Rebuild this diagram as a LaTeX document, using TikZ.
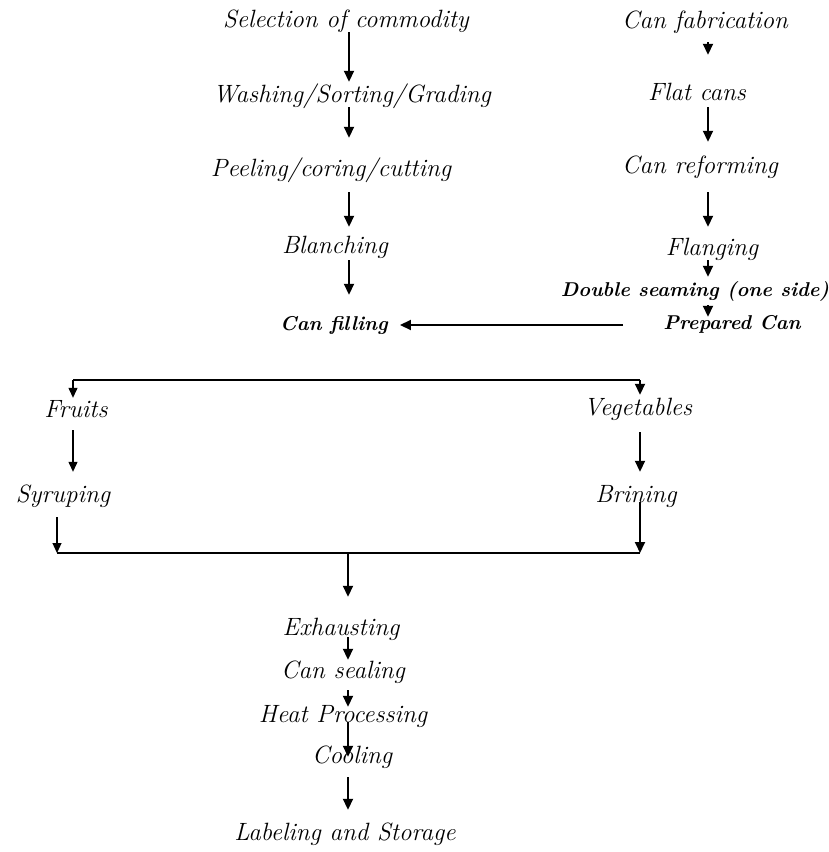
\documentclass[tikz,border=0pt]{standalone}
\usetikzlibrary{arrows.meta}
\begin{document}
\begin{tikzpicture}[x=1pt,y=-1pt,
 lbl/.style={font=\fontsize{25}{27}\selectfont\itshape, inner sep=0pt, text height=15pt, text depth=5pt},
 blbl/.style={font=\fontsize{20}{22}\selectfont\bfseries\itshape, inner sep=0pt, text height=12pt, text depth=4pt},
 arr/.style={line width=1.8pt, -{Triangle[width=10pt,length=11pt]}},
 tarr/.style={line width=1.2pt, -{Triangle[width=9pt,length=10pt]}},
 ln/.style={line width=1.2pt}]
\useasboundingbox (0,0) rectangle (828,852);
% columns
\coordinate (cL) at (349,0);
\coordinate (cR) at (708,0);
\coordinate (cM) at (348,0);
% left column
\node[lbl] (sel) at (346,22) {Selection of commodity};
\node[lbl] (wash) at (352,97) {Washing/Sorting/Grading};
\node[lbl] (peel) at (331,171) {Peeling/coring/cutting};
\node[lbl] (blan) at (335,248) {Blanching};
\node[blbl] (fill) at (334,326) {Can filling};
% right column
\node[lbl] (fab) at (705,23) {Can fabrication};
\node[lbl] (flat) at (697,95) {Flat cans};
\node[lbl] (reform) at (700,168) {Can reforming};
\node[lbl] (flang) at (712,250) {Flanging};
\node[blbl] (dbl) at (695,292) {Double seaming (one side)};
\node[blbl] (prep) at (732,325) {Prepared Can};
% branches
\node[lbl] (fruits) at (76,412) {Fruits};
\node[lbl] (veg) at (638,410) {Vegetables};
\node[lbl] (syr) at (63,497) {Syruping};
\node[lbl] (brin) at (636,497) {Brining};
% bottom column
\node[lbl] (exh) at (341,630) {Exhausting};
\node[lbl] (seal) at (343,673) {Can sealing};
\node[lbl] (heat) at (343,717) {Heat Processing};
\node[lbl] (cool) at (352,758) {Cooling};
\node[lbl] (lab) at (345,835) {Labeling and Storage};
% junction coordinates
\coordinate (spL) at (73,380);
\coordinate (spR) at (640,380);
\coordinate (jL) at (57,553);
\coordinate (jR) at (640,553);
\coordinate (jM) at (348,553);

% left column arrows
\draw[arr, shorten >=5pt] (sel.south -| cL) -- (wash.north -| cL);
\draw[arr, shorten >=23pt] (wash.south -| cL) -- (peel.north -| cL);
\draw[arr, shorten <=11pt, shorten >=11pt] (peel.south -| cL) -- (blan.north -| cL);
\draw[arr, shorten <=2pt, shorten >=23pt] (blan.south -| cL) -- (fill.north -| cL);
% right column arrows
\draw[arr, shorten <=9pt, shorten >=30pt] (fab.south -| cR) -- (flat.north -| cR);
\draw[arr, shorten <=2pt, shorten >=16pt] (flat.south -| cR) -- (reform.north -| cR);
\draw[arr, shorten <=14pt, shorten >=13pt] (reform.south -| cR) -- (flang.north -| cR);
\draw[arr, shorten >=7pt] (flang.south -| cR) -- (dbl.north -| cR);
\draw[arr, shorten <=5pt] (dbl.south -| cR) -- (prep.north -| cR);
% prepared can to can filling
\draw[arr, shorten <=40pt, shorten >=12pt] (prep.west) -- (prep.west -| fill.east);
% split
\draw[ln] (spL) -- (spR);
\draw[tarr, shorten >=4pt] (spL) -- (fruits.north -| spL);
\draw[arr, shorten >=5pt] (spR) -- (veg.north -| spR);
\draw[tarr, shorten <=8pt, shorten >=15pt] (fruits.south -| spL) -- (syr.north -| spL);
\draw[arr, shorten <=12pt, shorten >=15pt] (veg.south -| spR) -- (brin.north -| spR);
% merge
\draw[tarr, shorten <=10pt] (syr.south -| jL) -- (jL);
\draw[arr, shorten <=5pt] (brin.center -| jR) -- (jR);
\draw[ln] (jL) -- (jR);
\draw[arr, shorten >=23pt] (jM) -- (exh.north -| jM);
% bottom column arrows
\draw[arr, shorten <=-3pt, shorten >=3pt] (exh.south -| cM) -- (seal.north -| cM);
\draw[arr, shorten <=7pt] (seal.south -| cM) -- (heat.north -| cM);
\draw[arr, shorten <=-5pt, shorten >=-9pt] (heat.south -| cM) -- (cool.north -| cM);
\draw[arr, shorten <=9pt, shorten >=15pt] (cool.south -| cM) -- (lab.north -| cM);
\end{tikzpicture}
\end{document}
